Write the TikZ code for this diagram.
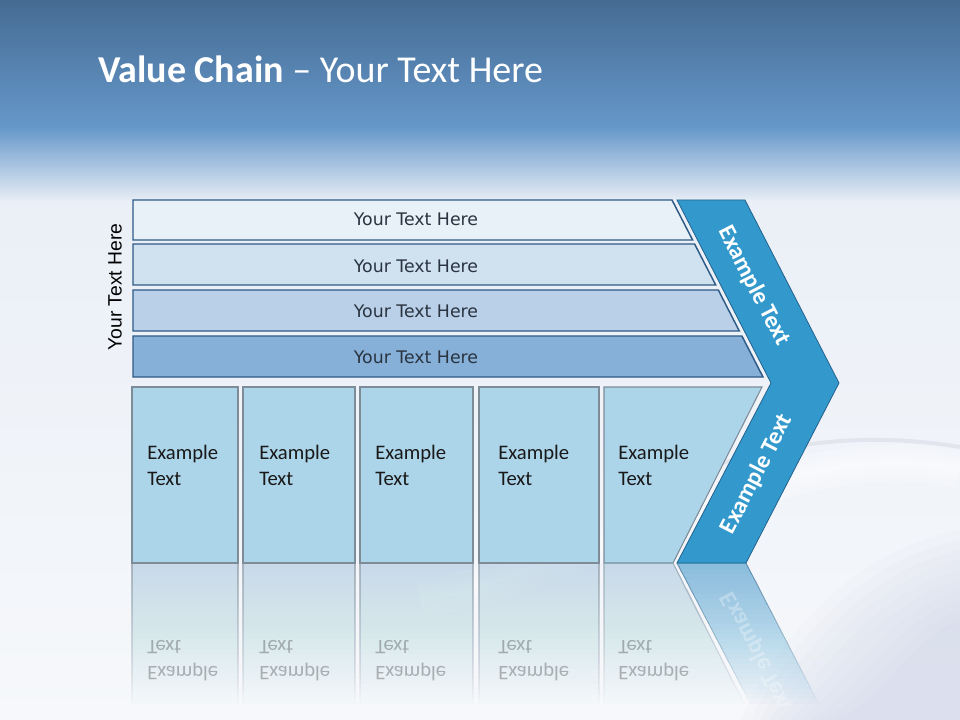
\documentclass[tikz,border=0pt]{standalone}
\usepackage{fontspec}
\setmainfont{Carlito}
\newfontfamily\rowfont{DejaVu Sans}
\newfontfamily\vfont{Liberation Sans}
\definecolor{bandtop}{HTML}{456B93}
\definecolor{bandbot}{HTML}{6698CA}
\definecolor{bodytop}{HTML}{E6ECF5}
\definecolor{bodybot}{HTML}{F6F8FB}
\definecolor{rowA}{HTML}{E8F0F8}
\definecolor{rowB}{HTML}{D0E1F0}
\definecolor{rowC}{HTML}{B9D0E8}
\definecolor{rowD}{HTML}{86B0D8}
\definecolor{rowline}{HTML}{2E5A86}
\definecolor{boxfill}{HTML}{ADD5EA}
\definecolor{boxline}{HTML}{7D8C97}
\definecolor{chevfill}{HTML}{3399CC}
\definecolor{chevline}{HTML}{23628E}
\definecolor{rowtext}{HTML}{2A3440}
\definecolor{lav}{HTML}{B8C0DE}
\tikzset{
  rowshape/.style={draw=rowline, line width=1.1pt, line join=miter},
  boxshape/.style={draw=boxline, fill=boxfill, line width=0.8pt},
  chevshape/.style={draw=chevline, fill=chevfill, line width=0.6pt},
  rowtxt/.style={font=\rowfont\fontsize{13}{15}\selectfont, text=rowtext, inner sep=0pt},
  boxtxt/.style={font=\fontsize{15.5}{19.3}\selectfont, text=black!90, align=left, anchor=north west, inner sep=0pt},
  chevtxt/.style={font=\bfseries\fontsize{18}{20}\selectfont, text=white, inner sep=0pt},
}
\newcommand\lowershapes{%
  \draw[boxshape] (132,387) rectangle (238,563);
  \draw[boxshape] (243,387) rectangle (355,563);
  \draw[boxshape] (360,387) rectangle (473,563);
  \draw[boxshape] (479,387) rectangle (599,563);
  \draw[boxshape] (604,387) -- (762,387) -- (673,563) -- (604,563) -- cycle;
  \draw[chevshape] (677,200) -- (745,200) -- (839,383) -- (746,563) -- (677,563) -- (771,383) -- cycle;
}
\newcommand\lowertexts[1]{%
  \node[boxtxt] (#1t1) at (147,445) {Example\\Text};
  \node[boxtxt] (#1t2) at (259,445) {Example\\Text};
  \node[boxtxt] (#1t3) at (375,445) {Example\\Text};
  \node[boxtxt] (#1t4) at (498,445) {Example\\Text};
  \node[boxtxt] (#1t5) at (618,445) {Example\\Text};
  \node[chevtxt, rotate=62.8] (#1c2) at (757,474) {Example Text};
}
\begin{document}
\begin{tikzpicture}[x=0.75pt, y=-0.75pt]
\useasboundingbox (0,0) rectangle (960,720);
% background
\shade[top color=bodytop, bottom color=bodybot] (0,0) rectangle (960,720);
\foreach \s in {0,10,...,90}{
  \fill[lav, opacity=0.045] ({740+\s},720) .. controls ({790+\s},{620+\s}) and ({860+\s*0.5},{550+\s}) .. (960,{530+\s}) -- (960,720) -- cycle;
}
\foreach \w in {28,18,10,4}{
  \draw[white, opacity=0.22, line width=\w pt] (420,600) .. controls (600,565) and (800,430) .. (960,470);
}
\draw[lav!70!black, opacity=0.12, line width=3pt] (700,470) .. controls (800,437) and (880,434) .. (960,447);
\shade[top color=bandtop, bottom color=bandbot] (0,0) rectangle (960,128);
\shade[top color=bandbot, bottom color=bodytop] (0,127.5) rectangle (960,200);
% title
\node[anchor=base west, inner sep=0pt, text=white, font=\fontsize{28.5}{31}\selectfont] (title) at (98,83) {\textbf{Value Chain} – Your Text Here};
% vertical label
\node[font=\vfont\fontsize{14.5}{16}\selectfont, rotate=90, inner sep=0pt] (side) at (115,287) {Your Text Here};
% rows
\draw[rowshape, fill=rowA] (133,200) -- (672,200) -- (692.6,240) -- (133,240) -- cycle;
\draw[rowshape, fill=rowB] (133,244) -- (694.6,244) -- (715.7,285) -- (133,285) -- cycle;
\draw[rowshape, fill=rowC] (133,290) -- (718.3,290) -- (739.3,331) -- (133,331) -- cycle;
\draw[rowshape, fill=rowD] (133,336) -- (741.9,336) -- (763,377) -- (133,377) -- cycle;
\node[rowtxt] (r1) at (416,219) {Your Text Here};
\node[rowtxt] (r2) at (416,266) {Your Text Here};
\node[rowtxt] (r3) at (416,311) {Your Text Here};
\node[rowtxt] (r4) at (416,357) {Your Text Here};
% lower part
\lowershapes
\lowertexts{m}
\node[chevtxt, rotate=-62.8] (c1) at (754,286) {Example Text};
% reflection (stacked layers give a soft fade)
\foreach \k in {1,...,28}{
  \begin{scope}
    \clip (0,563) rectangle (960,{563+5*\k});
    \begin{scope}[opacity=0.0245, shift={(0,1126)}, yscale=-1]
      \lowershapes
    \end{scope}
  \end{scope}
}
\begin{scope}
  \clip (0,563) rectangle (960,705);
  \begin{scope}[opacity=0.3, shift={(0,1126)}, yscale=-1, transform shape]
    \lowertexts{f}
  \end{scope}
\end{scope}
\end{tikzpicture}
\end{document}
